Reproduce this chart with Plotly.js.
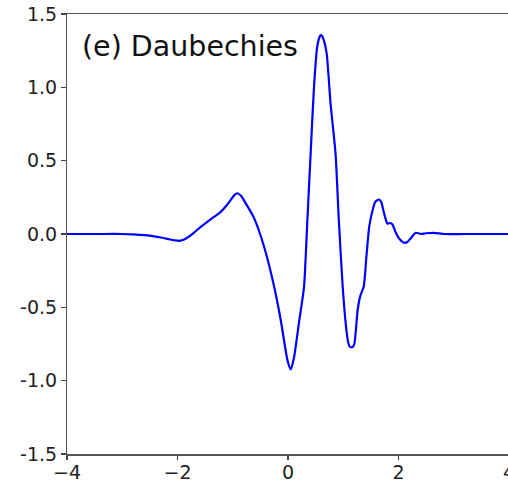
<!DOCTYPE html>
<html>
<head>
<meta charset="utf-8">
<script src="https://cdn.plot.ly/plotly-3.0.1.min.js"></script>
<style>
html, body { margin: 0; padding: 0; background: #fff; overflow: hidden; }
#chart { width: 512px; height: 480px; }
</style>
</head>
<body>
<div id="chart"></div>
<script>
// Wavelet curve samples
const waveX = [-4.0, -3.5, -3.0, -2.8, -2.6, -2.48, -2.3, -2.15, -2.05, -1.97, -1.88, -1.8, -1.7, -1.58, -1.4, -1.22, -1.08, -0.97, -0.92, -0.85, -0.75, -0.61, -0.43, -0.25, -0.13, -0.01, 0.05, 0.11, 0.2, 0.29, 0.35, 0.41, 0.47, 0.53, 0.58, 0.605, 0.64, 0.70, 0.77, 0.86, 0.92, 0.99, 1.05, 1.09, 1.12, 1.17, 1.20, 1.23, 1.26, 1.31, 1.37, 1.42, 1.47, 1.53, 1.58, 1.65, 1.69, 1.74, 1.80, 1.85, 1.89, 1.95, 2.01, 2.10, 2.16, 2.22, 2.31, 2.36, 2.40, 2.5, 2.64, 2.83, 3.2, 4.0];
const waveY = [0, 0, 0, -0.003, -0.008, -0.013, -0.024, -0.036, -0.043, -0.047, -0.038, -0.02, 0.01, 0.048, 0.10, 0.15, 0.21, 0.265, 0.278, 0.26, 0.2, 0.105, -0.09, -0.36, -0.59, -0.86, -0.924, -0.84, -0.6, -0.36, 0.09, 0.55, 1.0, 1.28, 1.35, 1.356, 1.33, 1.23, 0.89, 0.55, 0.094, -0.36, -0.63, -0.74, -0.77, -0.77, -0.75, -0.65, -0.52, -0.42, -0.36, -0.15, 0.05, 0.16, 0.22, 0.235, 0.215, 0.14, 0.07, 0.075, 0.065, 0.01, -0.03, -0.06, -0.055, -0.03, 0.008, 0.005, 0, 0.005, 0.008, 0, 0, 0];

const xTickVals = [-4, -2, 0, 2, 4];
const xTickText = ["\u22124", "\u22122", "0", "2", "4"];
const yTickVals = [-1.5, -1.0, -0.5, 0.0, 0.5, 1.0, 1.5];
const yTickText = ["-1.5", "-1.0", "-0.5", "0.0", "0.5", "1.0", "1.5"];
const panelLabel = "(e) Daubechies";

const font = "DejaVu Sans, sans-serif";

const trace = {
  x: waveX,
  y: waveY,
  type: "scatter",
  mode: "lines",
  line: { color: "#0000ff", width: 2.2, shape: "spline", smoothing: 0.6 },
  hoverinfo: "skip"
};

const layout = {
  width: 512,
  height: 480,
  margin: { l: 67, r: 3.4, t: 14, b: 26.3 },
  paper_bgcolor: "#ffffff",
  plot_bgcolor: "#ffffff",
  showlegend: false,
  xaxis: {
    range: [-4, 4],
    tickvals: xTickVals,
    ticktext: xTickText,
    ticks: "outside",
    ticklen: 4.5,
    tickwidth: 1.2,
    tickcolor: "#444",
    ticklabelstandoff: -4,
    ticklabeloverflow: "allow",
    showline: true,
    linecolor: "#555",
    linewidth: 1.5,
    mirror: true,
    showgrid: false,
    zeroline: false,
    tickfont: { family: font, size: 19, color: "#222" }
  },
  yaxis: {
    range: [-1.5, 1.5],
    tickvals: yTickVals,
    ticktext: yTickText,
    ticks: "outside",
    ticklen: 4.5,
    tickwidth: 1.2,
    tickcolor: "#444",
    showline: true,
    linecolor: "#555",
    linewidth: 1.5,
    mirror: true,
    showgrid: false,
    zeroline: false,
    tickfont: { family: font, size: 19, color: "#222" }
  },
  annotations: [{
    text: panelLabel,
    xref: "paper",
    yref: "paper",
    x: 0.029,
    y: 0.925,
    xanchor: "left",
    yanchor: "middle",
    showarrow: false,
    font: { family: font, size: 28.5, color: "#111" }
  }]
};

Plotly.newPlot("chart", [trace], layout, { displayModeBar: false, staticPlot: true });
</script>
</body>
</html>
